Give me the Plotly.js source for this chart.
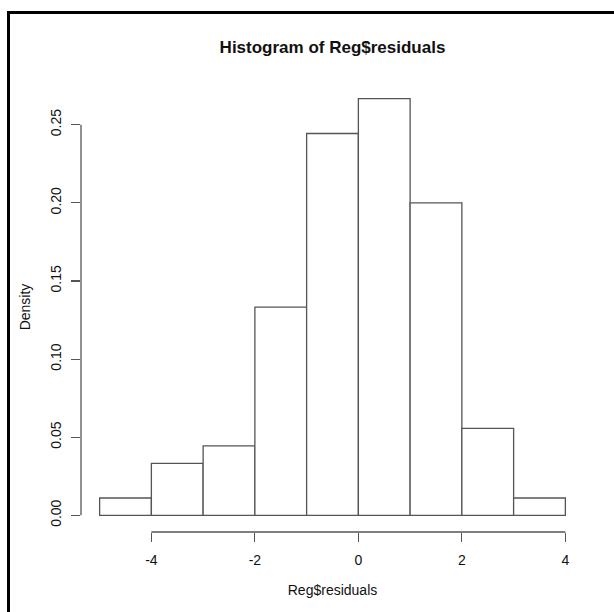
<!DOCTYPE html>
<html>
<head>
<meta charset="utf-8">
<script src="https://cdn.plot.ly/plotly-3.0.1.min.js"></script>
<style>
  html, body { margin: 0; padding: 0; background: #fff; }
  #wrap { position: relative; width: 614px; height: 612px; overflow: hidden; }
  #chart { position: absolute; left: 0; top: 0; width: 614px; height: 612px; }
  #frameL { position: absolute; left: 7px; top: 11px; width: 3px; height: 601px; background: #000; }
  #frameT { position: absolute; left: 7px; top: 11px; width: 607px; height: 3px; background: #000; }
</style>
</head>
<body>
<div id="wrap">
  <div id="chart"></div>
  <div id="frameL"></div>
  <div id="frameT"></div>
</div>
<script>
// Histogram bins (left edges) and densities
const binLefts = [-5, -4, -3, -2, -1, 0, 1, 2, 3];
const binWidth = 1;
const densities = [0.0111, 0.0333, 0.0444, 0.1333, 0.2444, 0.2667, 0.2000, 0.0556, 0.0111];
const xTicks = [-4, -2, 0, 2, 4];
const yTicks = [0.00, 0.05, 0.10, 0.15, 0.20, 0.25];
const titleText = "Histogram of Reg$residuals";
const xTitle = "Reg$residuals";
const yTitle = "Density";

const centers = binLefts.map(b => b + binWidth / 2);
const lineCol = '#555';
const font = 'Liberation Sans, Arial, sans-serif';

// R-style 4% axis extension
const xMin = binLefts[0], xMax = binLefts[binLefts.length - 1] + binWidth;
const xPad = (xMax - xMin) * 0.04;
const yMax = Math.max(...densities);
const yPad = yMax * 0.04;

const trace = {
  type: 'bar',
  x: centers,
  y: densities,
  width: binLefts.map(() => binWidth),
  marker: { color: '#ffffff', line: { color: lineCol, width: 1.3 } },
  hoverinfo: 'x+y'
};

const layout = {
  width: 614, height: 612,
  margin: { l: 81.4, r: 29.7, t: 82.2, b: 79.7, pad: 0 },
  paper_bgcolor: '#fff', plot_bgcolor: '#fff',
  showlegend: false,
  bargap: 0,
  font: { family: font, size: 14, color: '#111' },
  title: {
    text: '<b>' + titleText + '</b>',
    font: { family: font, size: 17, color: '#111' },
    x: 0.5, xref: 'paper', xanchor: 'center',
    y: 1 - 47 / 612, yref: 'container', yanchor: 'middle'
  },
  xaxis: {
    range: [xMin - xPad, xMax + xPad],
    tickvals: xTicks,
    ticktext: xTicks.map(v => String(v)),
    ticks: 'outside', ticklen: 9, tickwidth: 1.2, tickcolor: lineCol,
    showline: false, showgrid: false, zeroline: false,
    ticklabelstandoff: 6,
    tickfont: { family: font, size: 14, color: '#111' },
    title: { text: xTitle, font: { family: font, size: 14, color: '#111' }, standoff: 18 },
    fixedrange: true
  },
  yaxis: {
    range: [-yPad, yMax + yPad],
    tickvals: yTicks,
    ticktext: yTicks.map(v => v.toFixed(2)),
    tickangle: -90,
    ticks: 'outside', ticklen: 9, tickwidth: 1.2, tickcolor: lineCol,
    showline: false, showgrid: false, zeroline: false,
    ticklabelstandoff: 4,
    tickfont: { family: font, size: 14, color: '#111' },
    title: { text: yTitle, font: { family: font, size: 14, color: '#111' }, standoff: 14 },
    fixedrange: true
  },
  shapes: [
    { type: 'line', xref: 'x', yref: 'paper', x0: xTicks[0], x1: xTicks[xTicks.length - 1], y0: 0, y1: 0,
      line: { color: lineCol, width: 1.3 } },
    { type: 'line', xref: 'paper', yref: 'y', x0: 0, x1: 0, y0: yTicks[0], y1: yTicks[yTicks.length - 1],
      line: { color: lineCol, width: 1.3 } }
  ]
};

Plotly.newPlot('chart', [trace], layout, { displayModeBar: false, staticPlot: true });
</script>
</body>
</html>
